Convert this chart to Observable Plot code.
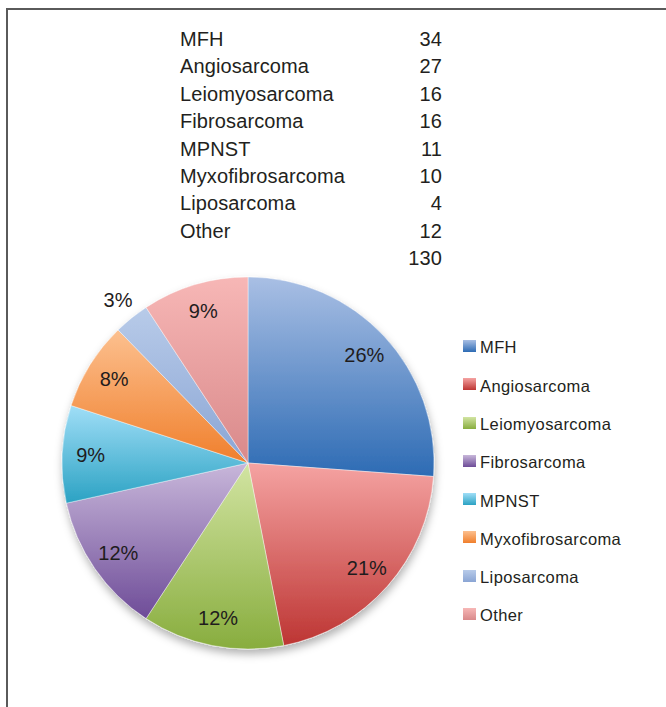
<!DOCTYPE html>
<html><head><meta charset="utf-8">
<script src="https://cdn.jsdelivr.net/npm/d3@7"></script>
<script src="https://cdn.jsdelivr.net/npm/@observablehq/plot@0.6"></script>
<style>
body{margin:0;background:#fff;font-family:"Liberation Sans",Arial,Helvetica,sans-serif;color:#231f20}
#wrap{position:relative;width:666px;height:707px;overflow:hidden;background:#fff}
#frame{position:absolute;left:6px;top:8px;right:-10px;bottom:-10px;border-left:2px solid #5a5a5a;border-top:2px solid #5a5a5a}
#chart{position:absolute;left:0;top:0}
#table{position:absolute;left:180px;top:26px;width:262px;font-size:20px;letter-spacing:0.1px}
#table .row{display:flex;justify-content:space-between;height:27.4px;line-height:27.4px;white-space:nowrap}
#legend{position:absolute;left:463px;top:328.4px;font-size:16.5px;letter-spacing:0.4px}
#legend .item{position:relative;height:38.3px;line-height:38.3px;padding-left:17px;white-space:nowrap}
#legend .sw{position:absolute;left:0;top:11.6px;width:13px;height:12px}
</style></head><body>
<div id="wrap"><div id="frame"></div><div id="chart"></div><div id="table"></div><div id="legend"></div></div>
<script>
const categories = ["MFH","Angiosarcoma","Leiomyosarcoma","Fibrosarcoma","MPNST","Myxofibrosarcoma","Liposarcoma","Other"];
const counts = [34,27,16,16,11,10,4,12];
const topColors = ["#a9bfe4","#f5a3a2","#d2e4a2","#c8b7da","#a0def7","#fcc08f","#b8cbe9","#f7b7b6"];
const bottomColors = ["#2d6bb4","#bd3533","#88ad3e","#6e4c98","#2ba2c3","#f07f2c","#8aa5d4","#d9898a"];

const total = d3.sum(counts);

// percentages rounded by largest remainder so they sum to 100
const raw = counts.map(c => c / total * 100);
const pct = raw.map(Math.floor);
let rest = 100 - d3.sum(pct);
d3.range(raw.length).sort((a,b) => (raw[b]-pct[b]) - (raw[a]-pct[a])).slice(0, rest).forEach(i => pct[i]++);

const data = categories.map((category, i) => ({category, count: counts[i], pct: pct[i], i}));
const arcs = d3.pie().sort(null).value(d => d.count)(data);
arcs.forEach(a => { a.data.mid = (a.startAngle + a.endAngle) / 2; a.data.share = a.data.count / total; });

function labelRadius(d) { return d.share < 0.05 ? 1.12 : 0.85; }

function pieMark(index, scales) {
  const cx = scales.x(0), cy = scales.y(0), R = scales.x(1) - cx;
  const g = d3.create("svg:g");
  const defs = g.append("defs");
  const f = defs.append("filter").attr("id","pshadow").attr("x","-20%").attr("y","-20%").attr("width","140%").attr("height","140%");
  f.append("feDropShadow").attr("dx",1).attr("dy",5).attr("stdDeviation",4).attr("flood-color","#000").attr("flood-opacity",0.3);
  categories.forEach((c, i) => {
    const lg = defs.append("linearGradient").attr("id","grad"+i).attr("x1",0).attr("y1",0).attr("x2",0).attr("y2",1);
    lg.append("stop").attr("offset",0).attr("stop-color",topColors[i]);
    lg.append("stop").attr("offset",1).attr("stop-color",bottomColors[i]);
  });
  const arc = d3.arc().innerRadius(0).outerRadius(R);
  const pg = g.append("g").attr("transform",`translate(${cx},${cy})`).attr("filter","url(#pshadow)");
  pg.selectAll("path").data(arcs).join("path")
    .attr("d", arc)
    .attr("fill", d => `url(#grad${d.data.i})`)
    .attr("stroke", "#fff").attr("stroke-width", 0.6).attr("stroke-opacity", 0.7);
  return g.node();
}

const chart = Plot.plot({
  width: 666, height: 707, margin: 0,
  style: {background: "transparent", fontFamily: "'Liberation Sans', Arial, sans-serif"},
  x: {domain: [-1, 1], range: [62, 434], axis: null},
  y: {domain: [-1, 1], range: [277, 649], axis: null},
  marks: [
    pieMark,
    Plot.text(data, {
      x: d => labelRadius(d) * Math.sin(d.mid),
      y: d => -labelRadius(d) * Math.cos(d.mid),
      text: d => d.pct + "%",
      fontSize: 20, fill: "#1f1c1d", textAnchor: "middle"
    })
  ]
});
document.getElementById("chart").appendChild(chart);

const table = d3.select("#table");
data.forEach(d => {
  const r = table.append("div").attr("class","row");
  r.append("span").text(d.category);
  r.append("span").text(d.count);
});
const tr = table.append("div").attr("class","row");
tr.append("span").text("");
tr.append("span").text(total);

const legend = d3.select("#legend");
data.forEach(d => {
  const it = legend.append("div").attr("class","item");
  it.append("div").attr("class","sw").style("background",`linear-gradient(${topColors[d.i]}, ${bottomColors[d.i]})`);
  it.append("span").text(d.category);
});
</script>
</body></html>
